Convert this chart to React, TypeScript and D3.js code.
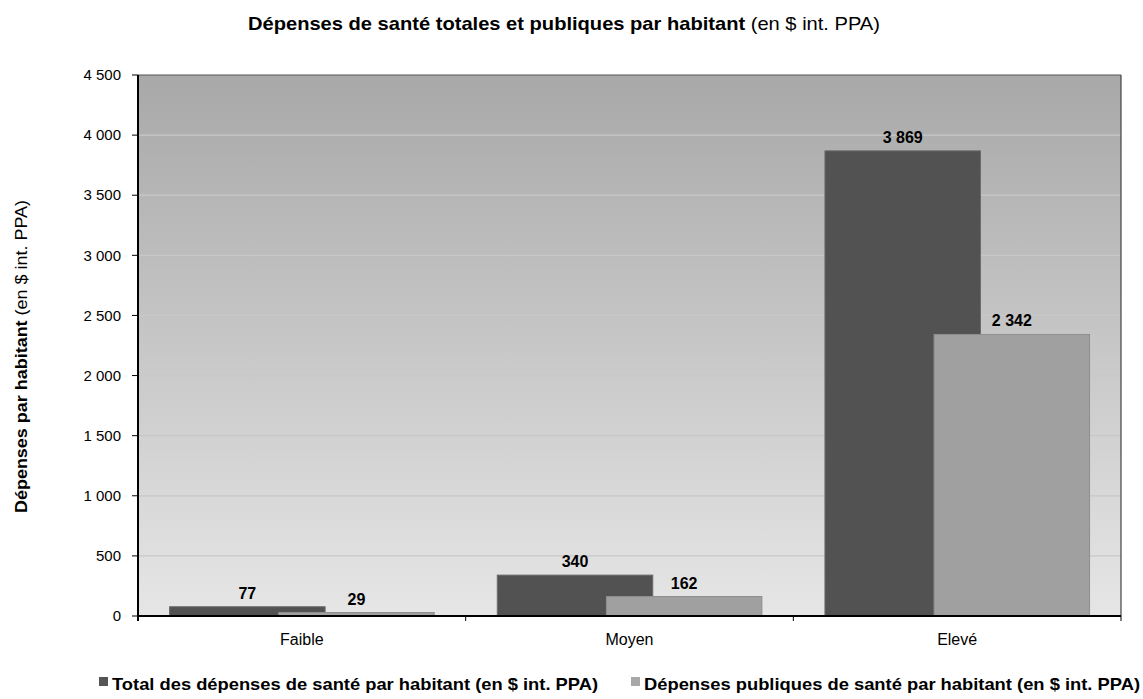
import React from "react";
import * as d3 from "d3";

const categories = ["Faible", "Moyen", "Elevé"];
const seriesNames = [
  "Total des dépenses de santé par habitant (en $ int. PPA)",
  "Dépenses publiques de santé par habitant (en $ int. PPA)",
];
const totalValues = [77, 340, 3869];
const publicValues = [29, 162, 2342];
const yTicks = [0, 500, 1000, 1500, 2000, 2500, 3000, 3500, 4000, 4500];
const seriesFill = ["#525252", "#a0a0a0"];
const legendFill = ["#555555", "#a8a8a8"];

const W = 1143;
const H = 699;
const M = { left: 138, right: 1121, top: 75, bottom: 616 };
const FONT = "'Liberation Sans', Arial, sans-serif";

const fmt = (v: number) => d3.format(",")(v).replace(/,/g, " ");

export default function App() {
  const x = d3.scaleBand<string>().domain(categories).range([M.left, M.right]).padding(0);
  const y = d3.scaleLinear().domain([0, 4500]).range([M.bottom, M.top]);
  const bw = x.bandwidth();
  const gap = bw * 0.0965;
  const barW = bw * 0.4745;
  const step = bw * 0.333;
  const series = [totalValues, publicValues];

  return (
    <svg
      width={W}
      height={H}
      style={{ position: "absolute", left: 0, top: 0, background: "#fff" }}
      fontFamily={FONT}
    >
      <defs>
        <linearGradient id="bg" x1="0" y1="0" x2="0" y2="1">
          <stop offset="0%" stopColor="#a8a8a8" />
          <stop offset="100%" stopColor="#e6e6e6" />
        </linearGradient>
      </defs>

      {/* title */}
      <text x={248} y={30} fontSize={19} textLength={632} lengthAdjust="spacingAndGlyphs" fill="#000">
        <tspan fontWeight="bold">Dépenses de santé totales et publiques par habitant</tspan>
        <tspan> (en $ int. PPA)</tspan>
      </text>

      {/* plot background */}
      <rect x={M.left} y={M.top} width={M.right - M.left} height={M.bottom - M.top} fill="url(#bg)" />

      {/* gridlines */}
      {yTicks.slice(1, -1).map((t) => (
        <line key={t} x1={M.left} x2={M.right} y1={y(t)} y2={y(t)} stroke="#c8c8c8" strokeWidth={1.2} />
      ))}

      {/* border top/right */}
      <line x1={M.left} x2={M.right} y1={M.top} y2={M.top} stroke="#555" strokeWidth={1.2} />
      <line x1={M.right} x2={M.right} y1={M.top} y2={M.bottom} stroke="#444" strokeWidth={1.2} />

      {/* bars */}
      {categories.map((c, i) =>
        series.map((vals, s) => {
          const bx = (x(c) as number) + gap + s * step;
          return (
            <rect
              key={c + s}
              x={bx}
              y={y(vals[i])}
              width={barW}
              height={M.bottom - y(vals[i])}
              fill={seriesFill[s]}
              stroke={s === 0 ? "#6a6a6a" : "#8e8e8e"}
              strokeWidth={1}
            />
          );
        })
      )}

      {/* value labels */}
      {categories.map((c, i) =>
        series.map((vals, s) => {
          const cx = (x(c) as number) + gap + s * step + barW / 2;
          return (
            <text
              key={"l" + c + s}
              x={cx}
              y={y(vals[i]) - 8}
              fontSize={16}
              fontWeight="bold"
              textAnchor="middle"
              fill="#000"
            >
              {fmt(vals[i])}
            </text>
          );
        })
      )}

      {/* y axis */}
      <line x1={M.left} x2={M.left} y1={M.top} y2={M.bottom + 5} stroke="#000" strokeWidth={2} />
      {yTicks.map((t) => (
        <g key={"t" + t}>
          <line x1={M.left - 6} x2={M.left} y1={y(t)} y2={y(t)} stroke="#000" strokeWidth={1} />
          <text x={121} y={y(t)} dy="0.35em" fontSize={15} textAnchor="end" fill="#000">
            {fmt(t)}
          </text>
        </g>
      ))}

      {/* x axis */}
      <line x1={M.left} x2={M.right} y1={M.bottom} y2={M.bottom} stroke="#000" strokeWidth={2} />
      {[...categories.map((c) => x(c) as number), M.right].map((px, i) => (
        <line key={"xt" + i} x1={px} x2={px} y1={M.bottom} y2={M.bottom + 5} stroke="#000" strokeWidth={1} />
      ))}
      {categories.map((c) => (
        <text
          key={"c" + c}
          x={(x(c) as number) + bw / 2}
          y={645}
          fontSize={16}
          textAnchor="middle"
          fill="#000"
        >
          {c}
        </text>
      ))}

      {/* y title */}
      <text
        transform="translate(27,356.5) rotate(-90)"
        x={0}
        y={0}
        fontSize={17}
        textAnchor="middle"
        textLength={313}
        lengthAdjust="spacingAndGlyphs"
        fill="#000"
      >
        <tspan fontWeight="bold">Dépenses par habitant</tspan>
        <tspan> (en $ int. PPA)</tspan>
      </text>

      {/* legend */}
      {seriesNames.map((n, i) => {
        const mx = i === 0 ? 99 : 631;
        const tx = i === 0 ? 112 : 644;
        const tl = i === 0 ? 486 : 496;
        return (
          <g key={"lg" + i}>
            <rect x={mx} y={677} width={9} height={9} fill={legendFill[i]} />
            <text
              x={tx}
              y={690}
              fontSize={17}
              fontWeight="bold"
              textLength={tl}
              lengthAdjust="spacingAndGlyphs"
              fill="#000"
            >
              {n}
            </text>
          </g>
        );
      })}
    </svg>
  );
}
